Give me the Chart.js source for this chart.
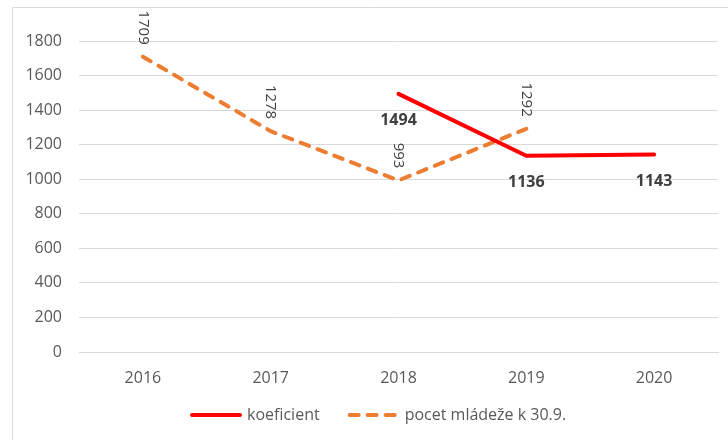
<!DOCTYPE html>
<html>
<head>
<meta charset="utf-8">
<script src="https://cdn.jsdelivr.net/npm/chart.js@4"></script>
<style>
  html, body { margin: 0; padding: 0; background: #fff; }
  #wrap { position: relative; width: 728px; height: 440px; }
</style>
</head>
<body>
<div id="wrap"><canvas id="chart" width="728" height="440"></canvas></div>
<script>
// ── Data ─────────────────────────────────────
const years       = ['2016', '2017', '2018', '2019', '2020'];
const koeficient  = [null, null, 1494, 1136, 1143];
const pocetMladeze = [1709, 1278, 993, 1292, null];
const yTicks      = [0, 200, 400, 600, 800, 1000, 1200, 1400, 1600, 1800];

const FONT = "'Open Sans', sans-serif";

// ── Frame (left + top border of the chart box) ──
const framePlugin = {
    id: 'frame',
    beforeDraw(chart) {
        const ctx = chart.ctx;
        ctx.save();
        ctx.strokeStyle = '#d9d9d9';
        ctx.lineWidth = 1;
        ctx.beginPath();
        ctx.moveTo(12.5, 440);
        ctx.lineTo(12.5, 7.5);
        ctx.lineTo(728, 7.5);
        ctx.stroke();
        ctx.restore();
    }
};

// ── Data labels ──────────────────────────────
const labelPlugin = {
    id: 'valueLabels',
    afterDatasetsDraw(chart) {
        const ctx = chart.ctx;
        ctx.save();
        ctx.fillStyle = '#404040';

        // koeficient: bold, below the point
        const m0 = chart.getDatasetMeta(0);
        ctx.font = `bold 16px ${FONT}`;
        ctx.textAlign = 'center';
        ctx.textBaseline = 'middle';
        m0.data.forEach((pt, i) => {
            const v = koeficient[i];
            if (v == null) return;
            ctx.fillText(String(v), pt.x, pt.y + 27);
        });

        // pocet: rotated 90°, above the point
        const m1 = chart.getDatasetMeta(1);
        ctx.font = `15px ${FONT}`;
        m1.data.forEach((pt, i) => {
            const v = pocetMladeze[i];
            if (v == null) return;
            ctx.save();
            ctx.translate(pt.x, pt.y - 12);
            ctx.rotate(Math.PI / 2);
            ctx.textAlign = 'right';
            ctx.textBaseline = 'middle';
            ctx.fillText(String(v), 0, 0);
            ctx.restore();
        });
        ctx.restore();
    }
};

// ── Legend (drawn by hand so spacing matches) ──
const legendPlugin = {
    id: 'lineLegend',
    afterDraw(chart) {
        const ctx = chart.ctx;
        const y = 415;
        let x = 190;
        ctx.save();
        ctx.font = `16px ${FONT}`;
        ctx.textBaseline = 'middle';
        ctx.textAlign = 'left';
        chart.data.datasets.forEach(ds => {
            ctx.strokeStyle = ds.borderColor;
            ctx.lineWidth = ds.borderWidth;
            ctx.lineCap = ds.borderCapStyle || 'butt';
            ctx.setLineDash(ds.borderDash || []);
            ctx.beginPath();
            ctx.moveTo(x + 2, y);
            ctx.lineTo(x + 50, y);
            ctx.stroke();
            ctx.setLineDash([]);
            ctx.fillStyle = '#595959';
            ctx.fillText(ds.label, x + 57, y);
            x += 57 + ctx.measureText(ds.label).width + 28;
        });
        ctx.restore();
    }
};

Chart.defaults.font.family = FONT;
Chart.defaults.color = '#595959';

new Chart(document.getElementById('chart'), {
    type: 'line',
    data: {
        labels: years,
        datasets: [
            {
                label: 'koeficient',
                data: koeficient,
                borderColor: '#ff0000',
                backgroundColor: '#ff0000',
                borderWidth: 4,
                borderCapStyle: 'round',
                pointRadius: 0,
                tension: 0,
                spanGaps: false,
            },
            {
                label: 'pocet mládeže k 30.9.',
                data: pocetMladeze,
                borderColor: '#ed7d31',
                backgroundColor: '#ed7d31',
                borderWidth: 4,
                borderDash: [9, 9],
                borderCapStyle: 'round',
                pointRadius: 0,
                tension: 0,
                spanGaps: false,
            }
        ]
    },
    options: {
        responsive: false,
        animation: false,
        layout: { padding: { top: 41, left: 0, right: 10, bottom: 38 } },
        plugins: {
            tooltip: { enabled: false },
            legend: { display: false }
        },
        scales: {
            x: {
                offset: true,
                grid: { display: false, drawTicks: false },
                border: { color: '#d9d9d9' },
                ticks: { padding: 17, font: { size: 16 }, color: '#595959' },
                afterFit(s) { s.height = 50; }
            },
            y: {
                min: 0,
                max: 1800,
                afterBuildTicks(s) { s.ticks = yTicks.map(v => ({ value: v })); },
                grid: { color: '#d9d9d9', drawTicks: false },
                border: { display: false },
                ticks: {
                    padding: 17,
                    font: { size: 16 },
                    color: '#595959',
                    callback: v => String(v)
                },
                afterFit(s) { s.width = 79; }
            }
        }
    },
    plugins: [framePlugin, labelPlugin, legendPlugin]
});
</script>
</body>
</html>
